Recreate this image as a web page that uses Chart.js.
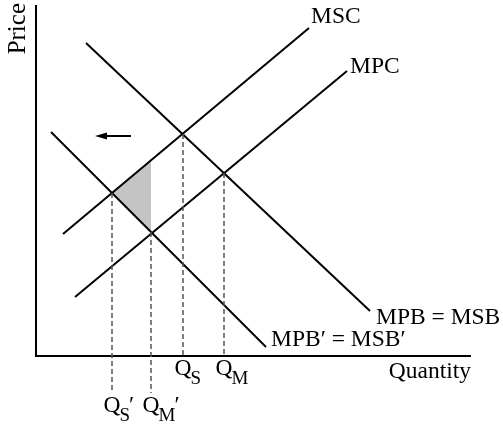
<!DOCTYPE html>
<html>
<head>
<meta charset="utf-8">
<script src="https://cdn.jsdelivr.net/npm/chart.js@4"></script>
<style>
  html, body { margin: 0; padding: 0; background: #fff; }
  #wrap { width: 503px; height: 429px; }
</style>
</head>
<body>
<div id="wrap"><canvas id="chart"></canvas></div>
<script>
//--- Diagram values (quantity on x, price on y).
const quantityMax = 435;
const priceMax = 351;

const mscCurve = [[27, 122], [273, 328]];
const mpcCurve = [[39, 59], [311, 285]];
const mpbCurve = [[50, 313], [334, 45]];
const mpbPrimeCurve = [[15, 224], [230, 9]];

// Q_S', Q_M', Q_S, Q_M
const quantities = [76, 115, 147, 188];
const quantityPrices = [163, 124, 222, 183];
const quantityFloors = [-37, -37, 0, 0];
const quantitySubs = ['S', 'M', 'S', 'M'];
const quantityPrimes = [true, true, false, false];

const shadedArea = [[76, 163], [115, 196], [115, 124]];
const shiftArrow = [[95, 220], [59, 220]];

const curveNames = ['MSC', 'MPC', 'MPB = MSB', 'MPB\u2032 = MSB\u2032'];

const toPoints = (arr) => arr.map(p => ({ x: p[0], y: p[1] }));

const SERIF = '"Liberation Serif", "Times New Roman", serif';

//--- Extra drawing: shaded area, arrow and all the text.
const diagramExtras = {
  id: 'diagramExtras',
  beforeDatasetsDraw(chart) {
    const { ctx, scales: { x, y } } = chart;
    ctx.save();
    ctx.fillStyle = '#c4c4c4';
    ctx.beginPath();
    shadedArea.forEach((p, i) => {
      const px = x.getPixelForValue(p[0]);
      const py = y.getPixelForValue(p[1]);
      if (i === 0) ctx.moveTo(px, py); else ctx.lineTo(px, py);
    });
    ctx.closePath();
    ctx.fill();
    ctx.restore();
  },
  afterDatasetsDraw(chart) {
    const { ctx, scales: { x, y } } = chart;
    const X = v => x.getPixelForValue(v);
    const Y = v => y.getPixelForValue(v);

    ctx.save();

    // Arrow showing the leftward shift.
    const x0 = X(shiftArrow[0][0]), y0 = Y(shiftArrow[0][1]);
    const x1 = X(shiftArrow[1][0]), y1 = Y(shiftArrow[1][1]);
    ctx.strokeStyle = '#000';
    ctx.fillStyle = '#000';
    ctx.lineWidth = 2;
    ctx.beginPath();
    ctx.moveTo(x0, y0);
    ctx.lineTo(x1 + 8, y1);
    ctx.stroke();
    ctx.beginPath();
    ctx.moveTo(x1, y1);
    ctx.lineTo(x1 + 12, y1 - 3.5);
    ctx.lineTo(x1 + 12, y1 + 3.5);
    ctx.closePath();
    ctx.fill();

    // Curve names.
    ctx.font = '23.5px ' + SERIF;
    ctx.textBaseline = 'alphabetic';
    ctx.textAlign = 'left';
    ctx.fillText(curveNames[0], X(mscCurve[1][0]) + 2, Y(mscCurve[1][1]) - 5);
    ctx.fillText(curveNames[1], X(mpcCurve[1][0]) + 3, Y(mpcCurve[1][1]) + 2);
    ctx.fillText(curveNames[2], X(mpbCurve[1][0]) + 6, Y(mpbCurve[1][1]) + 13);
    ctx.fillText(curveNames[3], X(mpbPrimeCurve[1][0]) + 5, Y(mpbPrimeCurve[1][1]) - 1);

    // Axis titles.
    ctx.textAlign = 'right';
    ctx.fillText('Quantity', X(quantityMax), Y(0) + 22);
    ctx.save();
    ctx.font = '25px ' + SERIF;
    ctx.translate(X(0) - 11, Y(priceMax) - 2);
    ctx.rotate(-Math.PI / 2);
    ctx.textAlign = 'right';
    ctx.fillText('Price', 0, 0);
    ctx.restore();

    // Quantity labels with subscripts.
    quantities.forEach((q, i) => {
      const cx = X(q);
      const base = Y(quantityFloors[i]) + 19;
      ctx.font = '23.5px ' + SERIF;
      ctx.textAlign = 'left';
      const wQ = ctx.measureText('Q').width;
      let left = cx - wQ / 2;
      ctx.fillText('Q', left, base);
      left += wQ - 1;
      ctx.font = '19px ' + SERIF;
      ctx.fillText(quantitySubs[i], left, base + 9);
      left += ctx.measureText(quantitySubs[i]).width - 1;
      if (quantityPrimes[i]) {
        ctx.font = '23.5px ' + SERIF;
        ctx.fillText('\u2032', left, base);
      }
    });

    ctx.restore();
  }
};

//--- Datasets.
const curve = (arr) => ({
  data: toPoints(arr),
  borderColor: '#000',
  borderWidth: 2,
  showLine: true,
  pointRadius: 0,
  clip: false
});

const guides = quantities.map((q, i) => ({
  data: [{ x: q, y: quantityPrices[i] }, { x: q, y: quantityFloors[i] }],
  borderColor: '#555',
  borderWidth: 1.5,
  borderDash: [5, 3],
  showLine: true,
  pointRadius: 0,
  clip: false
}));

const axes = {
  data: [{ x: 0, y: priceMax }, { x: 0, y: 0 }, { x: quantityMax, y: 0 }],
  borderColor: '#000',
  borderWidth: 2,
  showLine: true,
  pointRadius: 0,
  clip: false
};

new Chart(document.getElementById('chart'), {
  type: 'scatter',
  data: {
    datasets: [
      ...guides,
      curve(mscCurve),
      curve(mpcCurve),
      curve(mpbCurve),
      curve(mpbPrimeCurve),
      axes
    ]
  },
  options: {
    responsive: true,
    maintainAspectRatio: false,
    animation: false,
    layout: {
      padding: { left: 36, right: 32, top: 5, bottom: 73 }
    },
    scales: {
      x: { type: 'linear', min: 0, max: quantityMax, display: false },
      y: { type: 'linear', min: 0, max: priceMax, display: false }
    },
    plugins: {
      legend: { display: false },
      tooltip: { enabled: false }
    }
  },
  plugins: [diagramExtras]
});
</script>
</body>
</html>
